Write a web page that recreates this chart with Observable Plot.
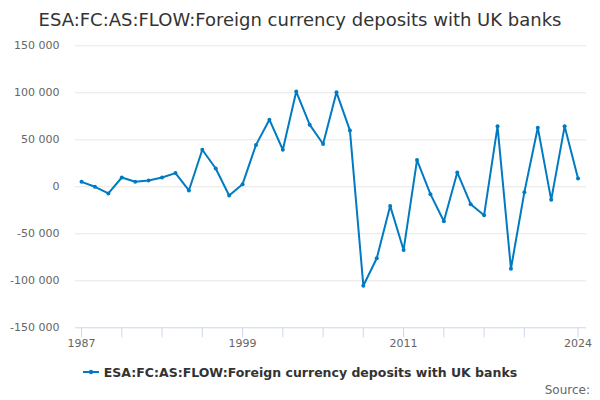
<!DOCTYPE html>
<html>
<head>
<meta charset="utf-8">
<script src="https://cdn.jsdelivr.net/npm/d3@7"></script>
<script src="https://cdn.jsdelivr.net/npm/@observablehq/plot@0.6"></script>
<style>
  body { margin: 0; background: #fff; font-family: "DejaVu Sans", sans-serif; }
  #wrap { position: relative; width: 600px; height: 400px; overflow: hidden; }
  #title { position: absolute; left: 0; width: 600px; top: 11px; text-align: center; font-size: 18px; line-height: 18px; color: #333; }
  #chart { position: absolute; left: 0; top: 36px; }
  #legend { position: absolute; left: 0; width: 600px; top: 365px; text-align: center; font-size: 12.5px; line-height: 16px; font-weight: bold; color: #333; }
  #legend svg { vertical-align: middle; margin-right: 5px; position: relative; top: -2px; }
  #source { position: absolute; right: 10px; top: 383px; font-size: 12px; line-height: 14px; color: #666; }
</style>
</head>
<body>
<div id="wrap">
  <div id="title">ESA:FC:AS:FLOW:Foreign currency deposits with UK banks</div>
  <div id="chart"></div>
  <div id="legend"><svg width="16" height="10"><line x1="0" y1="5" x2="16" y2="5" stroke="#007bc2" stroke-width="2"/><circle cx="8" cy="5" r="2.2" fill="#007bc2"/></svg>ESA:FC:AS:FLOW:Foreign currency deposits with UK banks</div>
  <div id="source">Source:</div>
</div>
<script>
const seriesName = "ESA:FC:AS:FLOW:Foreign currency deposits with UK banks";
const years = [1987,1988,1989,1990,1991,1992,1993,1994,1995,1996,1997,1998,1999,2000,2001,2002,2003,2004,2005,2006,2007,2008,2009,2010,2011,2012,2013,2014,2015,2016,2017,2018,2019,2020,2021,2022,2023,2024];
const values = [5300,0,-7100,9900,5300,6700,9900,14600,-3900,39400,19500,-9200,2800,44600,71400,39400,101300,66100,45500,100500,60000,-105200,-76000,-20300,-67200,28400,-7800,-36600,15300,-18500,-30200,64300,-87100,-5700,62900,-13900,64300,8900];
const yTicks = [-150000,-100000,-50000,0,50000,100000,150000];
const xLabelTicks = [1987,1999,2011,2024];
const xMinorTicks = [1987,1990,1993,1996,1999,2002,2005,2008,2011,2014,2017,2020,2024];

const color = "#007bc2";
const data = years.map((y, i) => ({year: y, value: values[i]}));
const fmt = d3.formatLocale({decimal: ".", thousands: " ", grouping: [3], currency: ["", ""], minus: "-"}).format(",");

const chart = Plot.plot({
  width: 600,
  height: 330,
  marginLeft: 75,
  marginRight: 14,
  marginTop: 9.3,
  marginBottom: 38.7,
  style: {fontFamily: "DejaVu Sans, sans-serif", background: "#fff"},
  x: {domain: [1986.55, 2024.63], label: null},
  y: {domain: [-150000, 150000], label: null},
  marks: [
    Plot.ruleY(yTicks.filter(d => d !== -150000), {stroke: "#e6e6e6", strokeWidth: 1}),
    Plot.ruleY([-150000], {stroke: "#ccd6eb", strokeWidth: 1}),
    Plot.axisY({ticks: yTicks, tickSize: 0, tickPadding: 16, tickFormat: fmt, fill: "#666", fontSize: 11, label: null}),
    Plot.axisX({ticks: xMinorTicks, tickSize: 10, tickFormat: () => "", stroke: "#ccd6eb", strokeOpacity: 1, label: null}),
    Plot.axisX({ticks: xLabelTicks, tickSize: 0, tickPadding: 11, tickFormat: d => String(d), fill: "#666", fontSize: 11, label: null}),
    Plot.line(data, {x: "year", y: "value", stroke: color, strokeWidth: 2}),
    Plot.dot(data, {x: "year", y: "value", r: 2, fill: color})
  ]
});
document.getElementById("chart").appendChild(chart);
</script>
</body>
</html>
